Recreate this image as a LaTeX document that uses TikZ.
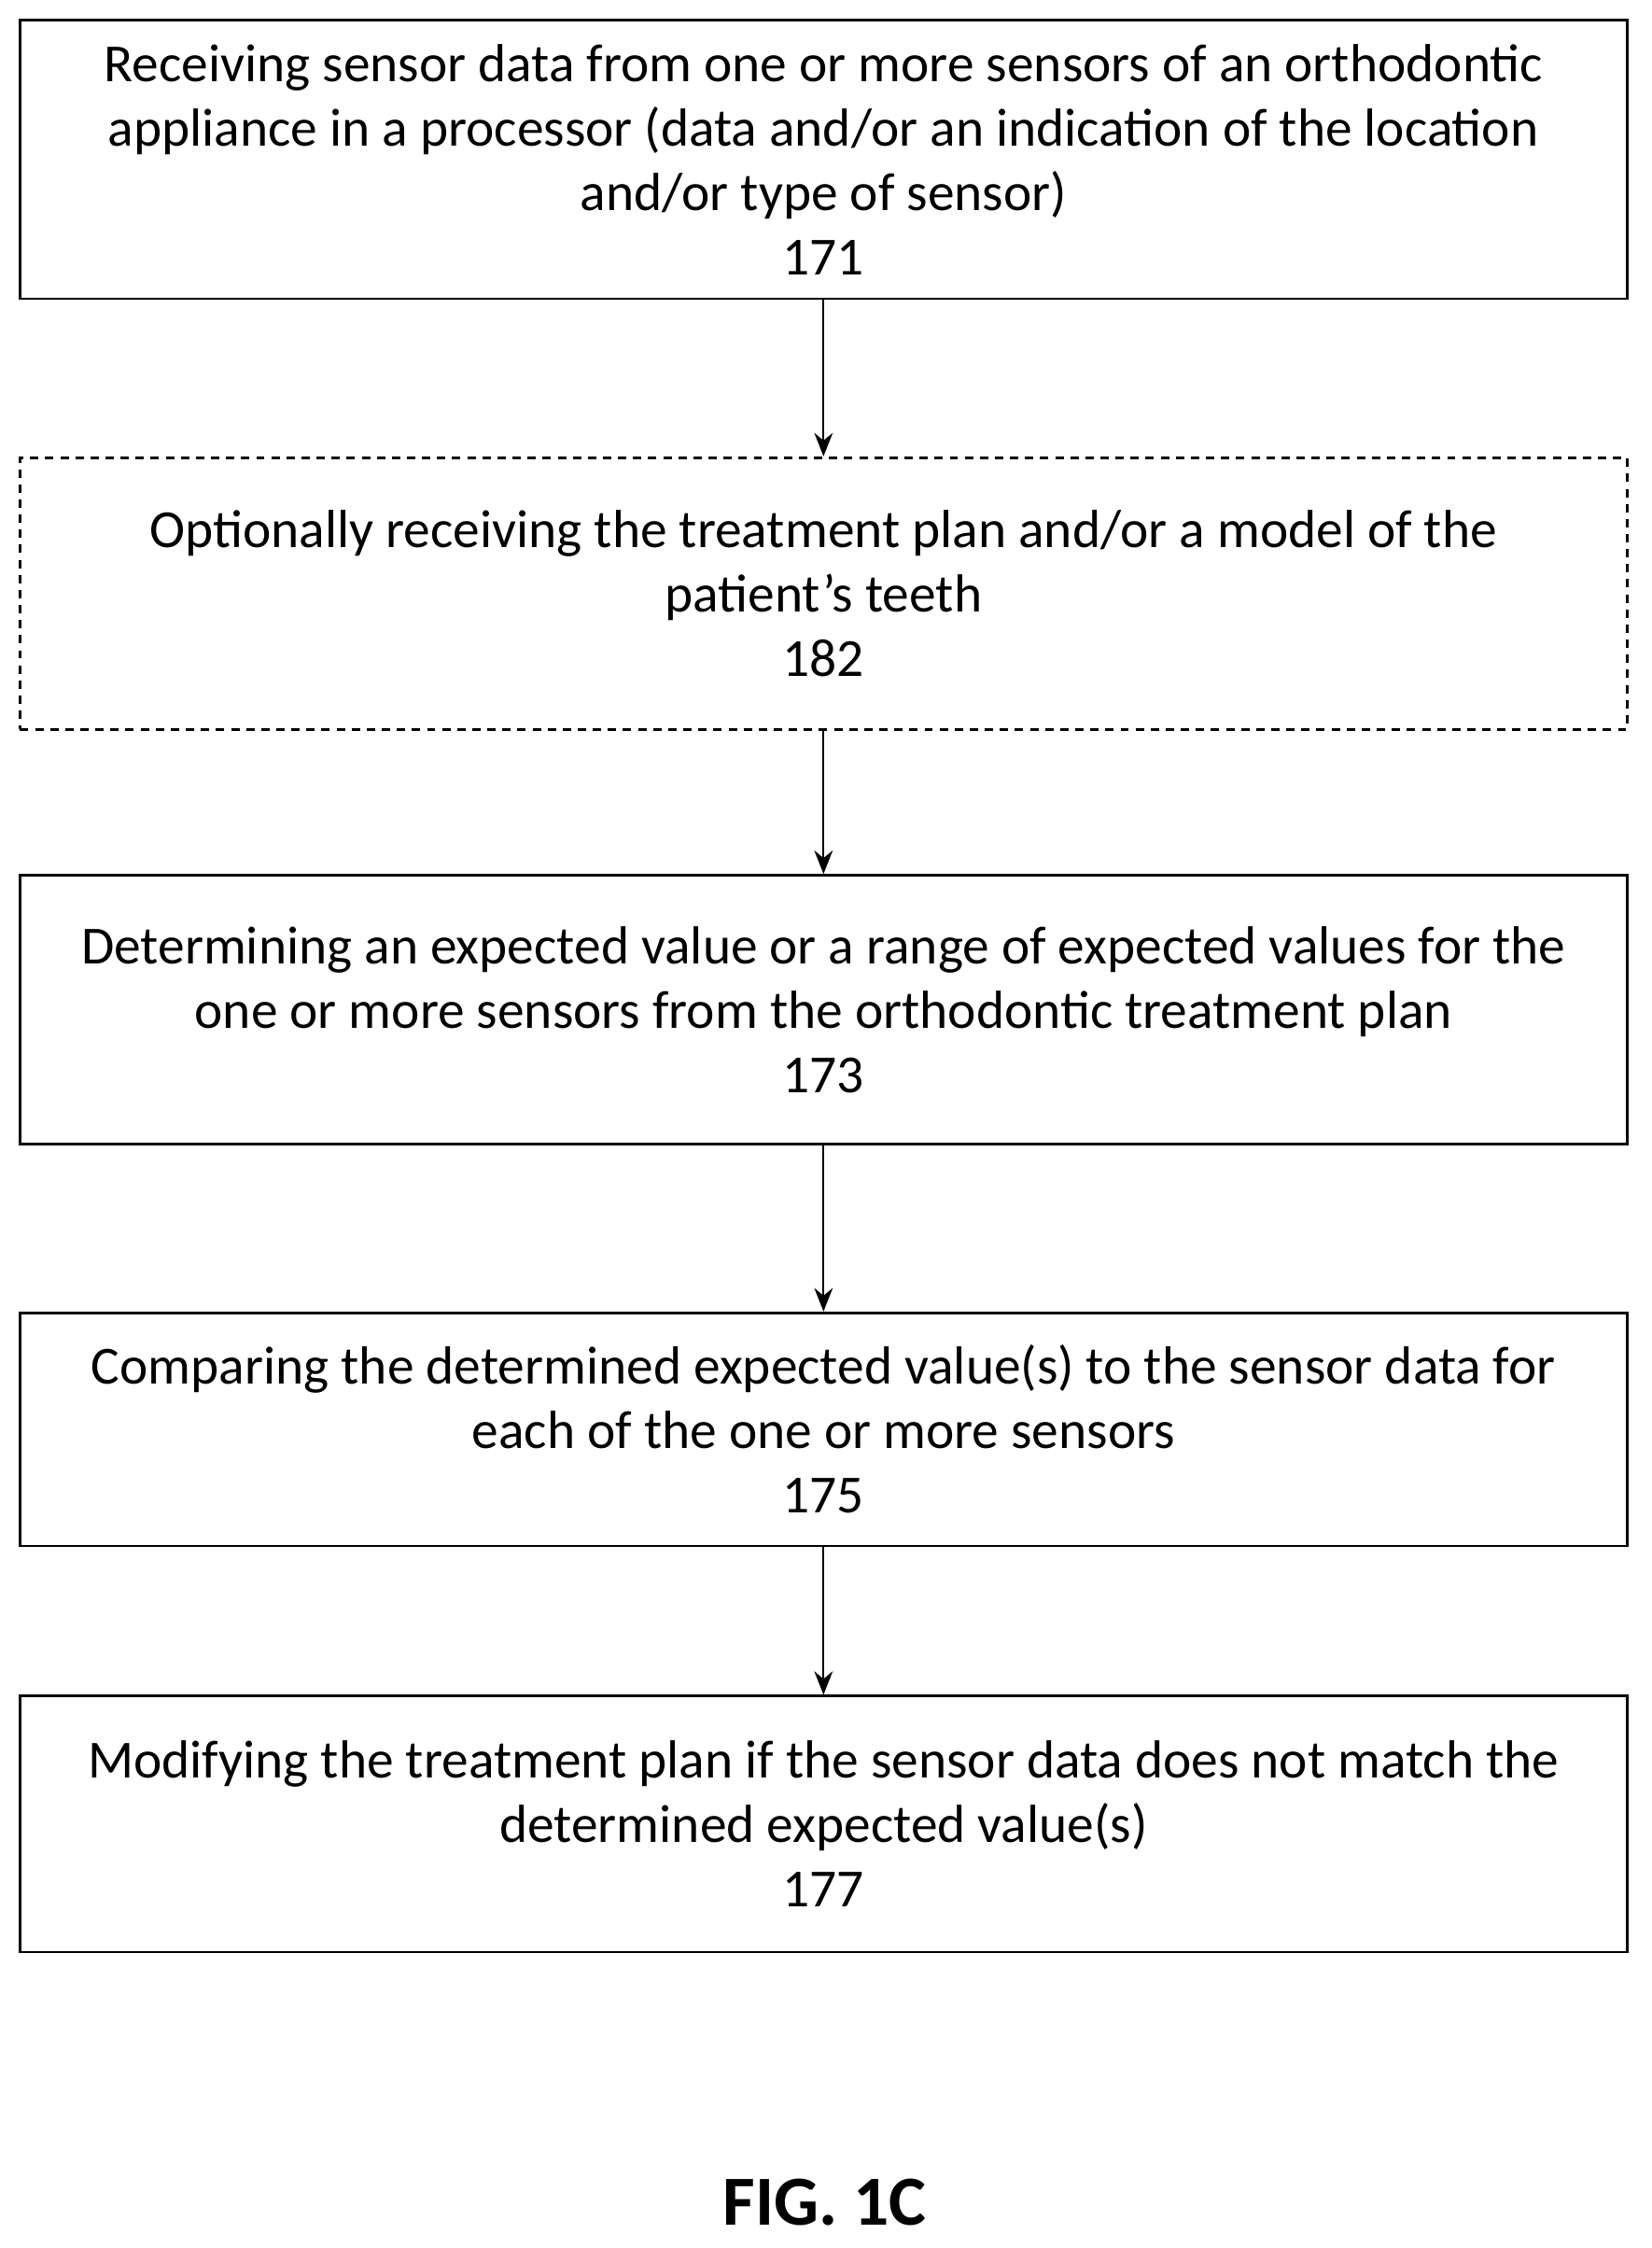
\documentclass[tikz,border=0pt]{standalone}
\usepackage{fontspec}
\setmainfont{Carlito}
\usetikzlibrary{arrows.meta}
\begin{document}
\begin{tikzpicture}[x=0.03cm,y=-0.03cm,
  box/.style={draw,line width=1.5pt,minimum width=33.72cm,align=center,inner sep=0pt,
    font=\fontsize{32}{38.4}\selectfont},
  arr/.style={-{Stealth[length=14pt,width=11pt]},line width=1.3pt}]
\useasboundingbox (0,0) rectangle (1155,1572);
\node[box,minimum height=195*0.03cm] (b1) at (576,111.5) {Receiving sensor data from one or more sensors of an orthodontic\\appliance in a processor (data and/or an indication of the location\\and/or type of sensor)\\171};
\node[box,dash pattern=on 5pt off 4pt,minimum height=190*0.03cm] (b2) at (576,415) {Optionally receiving the treatment plan and/or a model of the\\patient’s teeth\\182};
\node[box,minimum height=188*0.03cm] (b3) at (576,706) {Determining an expected value or a range of expected values for the\\one or more sensors from the orthodontic treatment plan\\173};
\node[box,minimum height=163*0.03cm] (b4) at (576,999.5) {Comparing the determined expected value(s) to the sensor data for\\each of the one or more sensors\\175};
\node[box,minimum height=179*0.03cm] (b5) at (576,1275.5) {Modifying the treatment plan if the sensor data does not match the\\determined expected value(s)\\177};
\node[font=\fontsize{42}{46}\selectfont\bfseries] (fig) at (577,1540) {FIG. 1C};
\draw[arr] (b1) -- (b2);
\draw[arr] (b2) -- (b3);
\draw[arr] (b3) -- (b4);
\draw[arr] (b4) -- (b5);
\end{tikzpicture}
\end{document}
